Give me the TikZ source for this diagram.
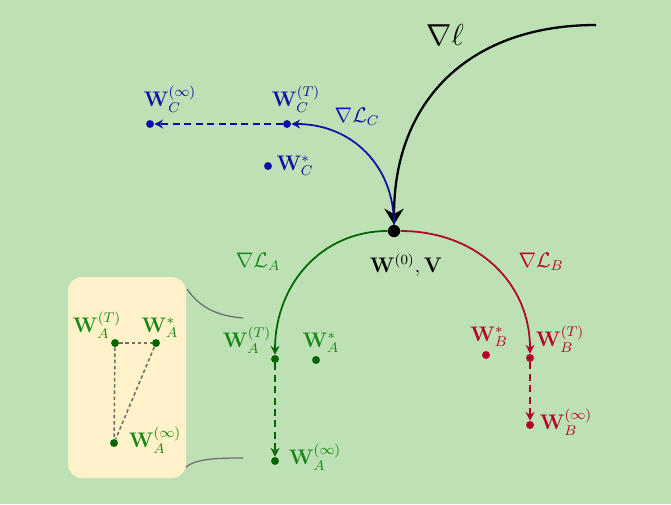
\documentclass[tikz,border=0pt]{standalone}
\usepackage{amsmath,amssymb}
\usetikzlibrary{arrows.meta}
\definecolor{bg}{RGB}{189,225,180}
\definecolor{insetbg}{RGB}{255,241,200}
\definecolor{cblue}{RGB}{15,15,165}
\definecolor{cgreen}{RGB}{0,100,0}
\definecolor{cgreenT}{RGB}{20,135,20}
\definecolor{cred}{RGB}{178,0,40}
\definecolor{cgray}{RGB}{110,110,110}
\begin{document}
\begin{tikzpicture}[x=0.02cm,y=-0.02cm,
  pt/.style={circle,fill,inner sep=0pt,minimum size=4.5pt},
  bigpt/.style={circle,fill=black,inner sep=0pt,minimum size=7pt},
  lbl/.style={inner sep=0pt,font=\large},
  grad/.style={line width=1pt,-{Stealth[length=5pt,width=5pt]}},
  lim/.style={line width=1.2pt,dash pattern=on 4pt off 2.5pt,-{Stealth[length=5pt,width=5pt]}},
  insetdash/.style={cgray,line width=0.9pt,dash pattern=on 2pt off 1.5pt},
  conn/.style={cgray,line width=0.7pt}]
\fill[bg] (0,0) rectangle (671,504);
\useasboundingbox (0,0) rectangle (671,504);

% central point
\node[bigpt] (W0) at (394,231) {};
\node[lbl] (W0l) at (406,265) {$\mathbf{W}^{(0)}, \mathbf{V}$};

% big gradient
\coordinate (gstart) at (596,25);
\draw[line width=1.3pt,-{Stealth[length=9pt,width=11pt,inset=3pt]}] (gstart) .. controls (470,25) and (394,100) .. (W0.north);
\node[lbl,font=\LARGE] (gl) at (445,35) {$\nabla\ell$};

% C (blue)
\node[pt,cblue] (CT) at (287,124) {};
\node[pt,cblue] (Cinf) at (150,124) {};
\node[pt,cblue] (Cstar) at (268,166) {};
\draw[cblue,grad] (W0) .. controls (394,166) and (352,124) .. (CT);
\draw[cblue,lim] (CT) -- (Cinf);
\node[lbl,cblue] (CTl) at (296,99) {$\mathbf{W}_C^{(T)}$};
\node[lbl,cblue] (Cinfl) at (170,99) {$\mathbf{W}_C^{(\infty)}$};
\node[lbl,cblue] (Cstarl) at (295,166) {$\mathbf{W}_C^{*}$};
\node[lbl,cblue] (gCl) at (357,117) {$\nabla\mathcal{L}_C$};

% A (green)
\node[pt,cgreen] (AT) at (275,359) {};
\node[pt,cgreen] (Ainf) at (275,461) {};
\node[pt,cgreen] (Astar) at (316,360) {};
\draw[cgreen,grad] (W0) .. controls (322,231) and (275,284) .. (AT);
\draw[cgreen,lim] (AT) -- (Ainf);
\node[lbl,cgreenT] (ATl) at (247,340) {$\mathbf{W}_A^{(T)}$};
\node[lbl,cgreenT] (Astarl) at (321,343) {$\mathbf{W}_A^{*}$};
\node[lbl,cgreenT] (Ainfl) at (315,457) {$\mathbf{W}_A^{(\infty)}$};
\node[lbl,cgreenT] (gAl) at (258,262) {$\nabla\mathcal{L}_A$};

% B (red)
\node[pt,cred] (BT) at (530,358) {};
\node[pt,cred] (Binf) at (530,425) {};
\node[pt,cred] (Bstar) at (486,355) {};
\draw[cred,grad] (W0) .. controls (476,231) and (530,282) .. (BT);
\draw[cred,lim] (BT) -- (Binf);
\node[lbl,cred] (BTl) at (560,339) {$\mathbf{W}_B^{(T)}$};
\node[lbl,cred] (Bstarl) at (489,337) {$\mathbf{W}_B^{*}$};
\node[lbl,cred] (Binfl) at (566,422) {$\mathbf{W}_B^{(\infty)}$};
\node[lbl,cred] (gBl) at (541,262) {$\nabla\mathcal{L}_B$};

% inset
\fill[insetbg,rounded corners=8pt] (68,277) rectangle (186,478);
\node[pt,cgreen] (iT) at (115,343) {};
\node[pt,cgreen] (iS) at (156,343) {};
\node[pt,cgreen] (iI) at (114,443) {};
\draw[insetdash] (iT) -- (iS);
\draw[insetdash] (iT) -- (iI);
\draw[insetdash] (iS) -- (iI);
\node[lbl,cgreenT] (iTl) at (97,325) {$\mathbf{W}_A^{(T)}$};
\node[lbl,cgreenT] (iSl) at (160,328) {$\mathbf{W}_A^{*}$};
\node[lbl,cgreenT] (iIl) at (155,440) {$\mathbf{W}_A^{(\infty)}$};

% connectors
\coordinate (c1a) at (187,289);
\coordinate (c1b) at (243,318);
\coordinate (c2a) at (186,467);
\coordinate (c2b) at (243,458);
\draw[conn] (c1a) .. controls (200,308) and (218,316) .. (c1b);
\draw[conn] (c2a) .. controls (196,459) and (215,458) .. (c2b);
\end{tikzpicture}
\end{document}
